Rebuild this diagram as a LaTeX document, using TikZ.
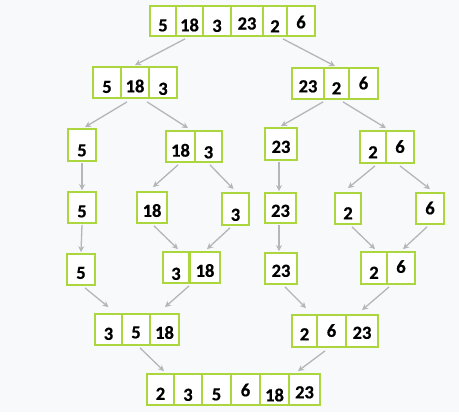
\documentclass[tikz,border=0pt]{standalone}
\usepackage{fontspec}
\setmainfont{Carlito}[BoldFeatures={FakeBold=0.6}]
\usetikzlibrary{arrows.meta}
\definecolor{cellgreen}{RGB}{172,214,62}
\definecolor{arrgray}{RGB}{182,182,184}
\definecolor{bggray}{RGB}{248,249,251}
\tikzset{
  cellst/.style={draw=cellgreen, line width=1.8pt, fill=white, inner sep=0pt,
    text depth=0pt, font=\fontsize{18.5}{21}\selectfont\bfseries, text=black},
  arr/.style={draw=arrgray, line width=1.3pt, -{Stealth[length=6pt,width=6pt]}}
}
\newcommand\cellbox[7]{%
  \pgfmathsetmacro\cxx{(#2+#3)/2}\pgfmathsetmacro\cyy{(#4+#5)/2}%
  \pgfmathsetmacro\cww{#3-#2}\pgfmathsetmacro\chh{#5-#4}%
  \pgfmathsetmacro\thh{11.7+2*#7}%
  \node[cellst, minimum width=\cww pt, minimum height=\chh pt, text height=\thh pt] (#1) at (\cxx,\cyy) {#6};}
\begin{document}
\begin{tikzpicture}[x=1pt,y=-1pt]
\useasboundingbox (0,0) rectangle (459,420);
\fill[white] (0,0) rectangle (459,420);
\fill[bggray] (0,0) rectangle (459,412);
% row 1
\cellbox{t1}{150}{176}{6}{36}{5}{4.5}
\cellbox{t2}{176}{203}{6}{36}{18}{4.5}
\cellbox{t3}{203}{231}{6}{36}{3}{5}
\cellbox{t4}{231}{263}{6}{36}{23}{2.7}
\cellbox{t5}{263}{287}{6}{36}{2}{5.5}
\cellbox{t6}{287}{315}{6}{36}{6}{1.5}
% row 2
\cellbox{a1}{93}{121}{67}{98}{5}{4.5}
\cellbox{a2}{121}{149}{67}{98}{18}{4}
\cellbox{a3}{149}{177}{67}{98}{3}{6.5}
\cellbox{b1}{292}{324}{68}{99}{23}{3}
\cellbox{b2}{324}{349}{68}{99}{2}{5}
\cellbox{b3}{349}{378}{68}{99}{6}{0}
% row 3
\cellbox{c1}{68}{96}{129}{161}{5}{5.5}
\cellbox{c2}{166}{195}{131}{162}{18}{4.3}
\cellbox{c3}{195}{222}{131}{162}{3}{6}
\cellbox{d1}{265}{297}{128}{160}{23}{3}
\cellbox{d2}{360}{386}{131}{163}{2}{5.5}
\cellbox{d3}{386}{414}{131}{163}{6}{0}
% row 4
\cellbox{e1}{68}{96}{192}{223}{5}{4}
\cellbox{e2}{137}{167}{192}{223}{18}{3.5}
\cellbox{e3}{222}{249}{193}{225}{3}{6}
\cellbox{f1}{265}{296}{193}{223}{23}{3}
\cellbox{f2}{335}{361}{193}{224}{2}{5}
\cellbox{f3}{416}{444}{193}{224}{6}{0}
% row 5
\cellbox{g1}{67}{95}{254}{285}{5}{3.5}
\cellbox{g2}{163}{189}{252}{283}{3}{6.5}
\cellbox{g3}{190}{220}{252}{283}{18}{3.5}
\cellbox{h1}{265}{297}{253}{284}{23}{2.5}
\cellbox{h2}{361}{387}{252}{284}{2}{5}
\cellbox{h3}{387}{415}{252}{284}{6}{-1}
% row 6
\cellbox{m1}{95}{122}{314}{345}{3}{4.5}
\cellbox{m2}{122}{150}{314}{345}{5}{3}
\cellbox{m3}{150}{179}{314}{345}{18}{3.5}
\cellbox{n1}{292}{317}{315}{347}{2}{3.5}
\cellbox{n2}{317}{346}{315}{347}{6}{0}
\cellbox{n3}{346}{378}{315}{347}{23}{2}
% row 7
\cellbox{z1}{147}{174}{374}{405}{2}{4.5}
\cellbox{z2}{174}{202}{374}{405}{3}{5.5}
\cellbox{z3}{202}{231}{374}{405}{5}{5}
\cellbox{z4}{231}{260}{374}{405}{6}{1}
\cellbox{z5}{260}{289}{374}{405}{18}{6}
\cellbox{z6}{289}{320}{374}{405}{23}{3}
% arrows
\draw[arr] ([xshift=-4.5pt,yshift=-2pt]t2.south) -- ([yshift=1pt]a2.north);
\draw[arr] ([xshift=8pt,yshift=-2pt]t5.south) -- ([xshift=-1.5pt,yshift=1pt]b2.north);
\draw[arr] ([xshift=-8pt,yshift=-3pt]a2.south) -- ([xshift=3pt,yshift=1pt]c1.north);
\draw[arr] ([xshift=-1pt,yshift=-3pt]a3.south west) -- ([xshift=7.5pt,yshift=2pt]c2.north);
\draw[arr] ([yshift=-2pt]b2.south west) -- ([yshift=1pt]d1.north);
\draw[arr] ([xshift=6.5pt,yshift=-2pt]b2.south) -- ([xshift=-1pt,yshift=2pt]d2.north east);
\draw[arr] ([yshift=-1pt]c1.south) -- ([yshift=1pt]e1.north);
\draw[arr] ([xshift=-2.5pt,yshift=-2pt]c2.south) -- ([xshift=1pt,yshift=4pt]e2.north);
\draw[arr] ([xshift=1.5pt,yshift=-2pt]c3.south) -- ([xshift=-2pt,yshift=3pt]e3.north);
\draw[arr] ([xshift=-2pt,yshift=-1pt]d1.south) -- ([xshift=-1.5pt,yshift=1pt]f1.north);
\draw[arr] ([xshift=2pt,yshift=-2pt]d2.south) -- ([yshift=4pt]f2.north);
\draw[arr] ([yshift=-2pt]d3.south) -- ([yshift=3pt]f3.north);
\draw[arr] ([yshift=-1pt]e1.south) -- ([yshift=1pt]g1.north);
\draw[arr] ([xshift=2pt,yshift=-2pt]e2.south) -- ([xshift=2pt,yshift=2pt]g2.north);
\draw[arr] ([xshift=-5.5pt,yshift=-2pt]e3.south) -- ([xshift=2pt,yshift=2pt]g3.north);
\draw[arr] ([xshift=-1.5pt,yshift=-1pt]f1.south) -- ([xshift=-2pt,yshift=1pt]h1.north);
\draw[arr] ([xshift=4pt,yshift=-2pt]f2.south) -- ([xshift=1pt,yshift=2pt]h2.north);
\draw[arr] ([xshift=-3pt,yshift=-2pt]f3.south) -- ([xshift=2pt,yshift=2pt]h3.north);
\draw[arr] ([xshift=4pt,yshift=-2pt]g1.south) -- ([yshift=6pt]m1.north);
\draw[arr] ([yshift=-2pt]g3.south west) -- ([xshift=0.5pt,yshift=6pt]m3.north);
\draw[arr] ([xshift=4pt,yshift=-2pt]h1.south) -- ([xshift=1.5pt,yshift=6pt]n1.north);
\draw[arr] ([xshift=3pt,yshift=-2pt]h3.south west) -- ([yshift=4pt]n3.north);
\draw[arr] ([xshift=4pt,yshift=-2pt]m2.south) -- ([xshift=3.5pt,yshift=2pt]z1.north);
\draw[arr] ([xshift=-6.5pt,yshift=-3pt]n2.south) -- ([xshift=-6.5pt,yshift=2pt]z6.north);
\end{tikzpicture}
\end{document}
